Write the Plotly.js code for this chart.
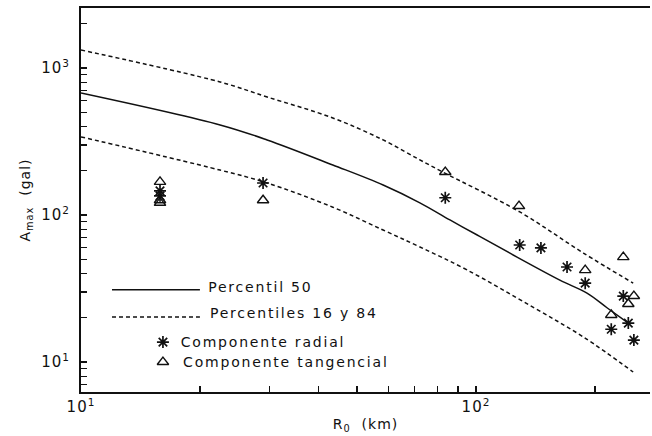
<!DOCTYPE html>
<html><head><meta charset="utf-8">
<script src="https://cdn.plot.ly/plotly-3.0.1.min.js"></script>
<style>
body{margin:0;background:#fff}
#chart{width:652px;height:436px}
#chart .annotation-text{letter-spacing:1.8px}
#chart .xtick text, #chart .ytick text{letter-spacing:1px}
#chart .g-xtitle text, #chart .g-ytitle text{letter-spacing:1px}
</style>
</head><body><div id="chart"></div>
<script>
// Percentile curves (R0 km, Amax gal)
const p50X = [10, 22.5, 29.6, 43.4, 58.2, 72.1, 85.9, 100.7, 121.9, 163, 191, 215, 243];
const p50Y = [676, 410, 324, 219, 160, 121, 92.5, 73.1, 55.0, 36.1, 29.4, 23.3, 18.4];
const p84X = [10, 22.5, 29.6, 43.4, 58.2, 72.1, 82.4, 129, 187, 250];
const p84Y = [1325, 803, 635, 457, 324, 237, 196, 105, 55.1, 34.4];
const p16X = [10, 22.5, 29.6, 43.4, 58.2, 72.1, 94.9, 139, 187, 250];
const p16Y = [340, 202, 165, 113, 79, 60.6, 42.3, 23.7, 14.8, 8.55];
// Observations
const radialX = [15.85, 15.85, 28.9, 83.6, 129, 146, 170, 189, 236, 243, 220, 251];
const radialY = [146, 135, 165, 131, 62.5, 59.7, 44.3, 34.4, 28.1, 18.4, 16.7, 14.1];
const tangX = [15.85, 15.85, 15.85, 28.9, 83.6, 128.5, 189, 236, 251, 243, 220];
const tangY = [168, 126, 121, 126, 196, 115, 42.2, 51.7, 28.1, 24.8, 20.9];
// Ticks
const xTickVals = [10, 20, 30, 40, 50, 60, 70, 80, 90, 100, 200];
const xTickText = ['10<sup>1</sup>', '', '', '', '', '', '', '', '', '10<sup>2</sup>', ''];
const yTickVals = [7, 8, 9, 10, 20, 30, 40, 50, 60, 70, 80, 90, 100, 200, 300, 400, 500, 600, 700, 800, 900, 1000, 2000];
const yTickText = ['', '', '', '10<sup>1</sup>', '', '', '', '', '', '', '', '', '10<sup>2</sup>', '', '', '', '', '', '', '', '', '10<sup>3</sup>', ''];
// Legend labels
const legendLabels = ['Percentil 50', 'Percentiles 16 y 84', 'Componente radial', 'Componente tangencial'];

const FONT = 'DejaVu Sans, Liberation Sans, sans-serif';
const solid = {color: '#111', width: 1.5};
const dashed = {color: '#111', width: 1.5, dash: '4px,3px'};
const astMarker = {symbol: 'asterisk-open', size: 10, color: '#111', line: {color: '#111', width: 1.7}};
const triMarker = {symbol: 'triangle-up-open', size: 10, color: '#111', line: {color: '#111', width: 1.4}};

const traces = [
  {x: p50X, y: p50Y, mode: 'lines', line: Object.assign({shape: 'spline', smoothing: 1}, solid), hoverinfo: 'skip'},
  {x: p84X, y: p84Y, mode: 'lines', line: Object.assign({shape: 'spline', smoothing: 1}, dashed), hoverinfo: 'skip'},
  {x: p16X, y: p16Y, mode: 'lines', line: Object.assign({shape: 'spline', smoothing: 1}, dashed), hoverinfo: 'skip'},
  {x: radialX, y: radialY, mode: 'markers', marker: astMarker},
  {x: tangX, y: tangY, mode: 'markers', marker: triMarker},
  // legend samples on a hidden overlay axis (0..1 of plot area)
  {x: [0.0545, 0.209], y: [0.266, 0.266], mode: 'lines', line: solid, xaxis: 'x2', yaxis: 'y2'},
  {x: [0.0545, 0.209], y: [0.195, 0.195], mode: 'lines', line: dashed, xaxis: 'x2', yaxis: 'y2'},
  {x: [0.144], y: [0.130], mode: 'markers', marker: astMarker, xaxis: 'x2', yaxis: 'y2'},
  {x: [0.144], y: [0.078], mode: 'markers', marker: triMarker, xaxis: 'x2', yaxis: 'y2'}
];

const legText = (txt, x, y) => ({text: txt, xref: 'paper', yref: 'paper', x: x, y: y, xanchor: 'center', yanchor: 'middle', showarrow: false, font: {family: FONT, size: 14, color: '#111'}});

const layout = {
  width: 652, height: 436,
  margin: {l: 81, r: 2, t: 8, b: 44},
  paper_bgcolor: '#fff', plot_bgcolor: '#fff',
  showlegend: false,
  font: {family: FONT, color: '#111'},
  xaxis: {
    type: 'log', range: [1, 2.4405], showgrid: false, zeroline: false,
    showline: true, linecolor: '#111', linewidth: 2, mirror: true,
    ticks: 'inside', ticklen: 6, tickwidth: 1.3, tickcolor: '#111',
    tickmode: 'array', tickvals: xTickVals, ticktext: xTickText,
    tickfont: {family: FONT, size: 15, color: '#111'},
    title: {text: 'R<sub>0</sub>  (km)', font: {family: FONT, size: 14, color: '#111'}, standoff: 4}
  },
  yaxis: {
    type: 'log', range: [0.796, 3.408], showgrid: false, zeroline: false,
    showline: true, linecolor: '#111', linewidth: 2,
    ticks: 'inside', ticklen: 6, tickwidth: 1.3, tickcolor: '#111',
    tickmode: 'array', tickvals: yTickVals, ticktext: yTickText,
    tickfont: {family: FONT, size: 15, color: '#111'},
    ticklabelstandoff: 6,
    title: {text: 'A<sub>max</sub>  (gal)', font: {family: FONT, size: 14, color: '#111'}, standoff: 10}
  },
  xaxis2: {overlaying: 'x', range: [0, 1], visible: false, fixedrange: true},
  yaxis2: {overlaying: 'y', range: [0, 1], visible: false, fixedrange: true},
  annotations: [
    legText(legendLabels[0], 0.3163, 0.273),
    legText(legendLabels[1], 0.3743, 0.206),
    legText(legendLabels[2], 0.3205, 0.130),
    legText(legendLabels[3], 0.3603, 0.078)
  ]
};

Plotly.newPlot('chart', traces, layout, {displayModeBar: false, staticPlot: true});
</script>
</body></html>
